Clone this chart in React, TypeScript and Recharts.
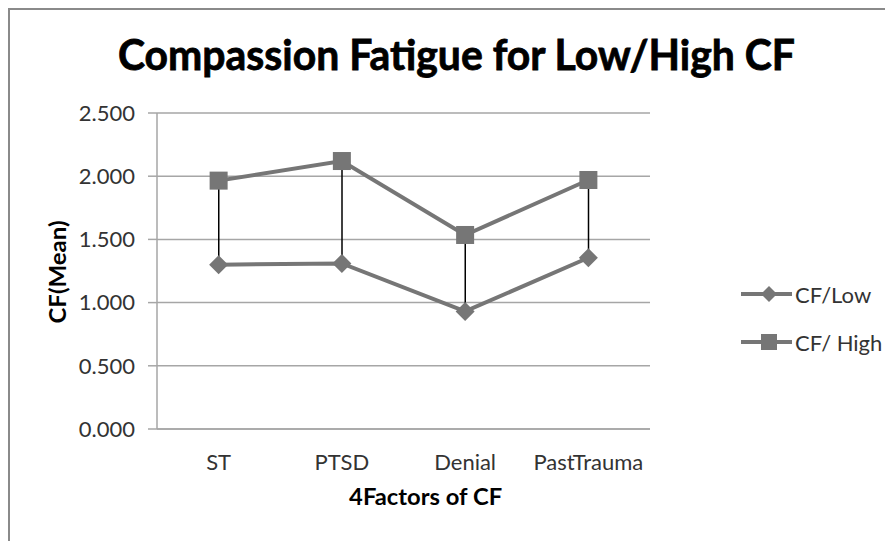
import { Bar, CartesianGrid, ComposedChart, Line, XAxis, YAxis } from 'recharts';

const categories = ['ST', 'PTSD', 'Denial', 'PastTrauma'];
const lowValues = [1.3, 1.31, 0.93, 1.355];
const highValues = [1.965, 2.12, 1.535, 1.97];
const yTicks = [0, 0.5, 1, 1.5, 2, 2.5];

const seriesColor = '#767676';
const gridColor = '#a6a6a6';
const font = 'Lato, "Open Sans", sans-serif';

const chartData = categories.map((name, i) => ({ name, low: lowValues[i], high: highValues[i] }));

const Diamond = ({ cx, cy, r = 9.5 }: { cx: number; cy: number; r?: number }) => (
  <path d={`M${cx},${cy - r}L${cx + r},${cy}L${cx},${cy + r}L${cx - r},${cy}Z`} fill={seriesColor} />
);

const Square = ({ cx, cy, s = 9 }: { cx: number; cy: number; s?: number }) => (
  <rect x={cx - s} y={cy - s} width={s * 2} height={s * 2} fill={seriesColor} />
);

const Overlay = () => (
  <svg width={883} height={531} style={{ position: 'absolute', left: 0, top: 0, pointerEvents: 'none' }}>
    <text
      x={446.5}
      y={60}
      textAnchor="middle"
      fontFamily={font}
      fontWeight={700}
      fontSize={42}
      fill="#000"
      stroke="#000"
      strokeWidth={0.8}
      textLength={677}
      lengthAdjust="spacingAndGlyphs"
    >
      Compassion Fatigue for Low/High CF
    </text>
    <text x={47} y={262} transform="rotate(-90, 47, 262)" textAnchor="middle" dominantBaseline="central" fontFamily={font} fontWeight={700} fontSize={22} fill="#000" textLength={103} lengthAdjust="spacingAndGlyphs">
      CF(Mean)
    </text>
    <text x={415.6} y={495} textAnchor="middle" fontFamily={font} fontWeight={700} fontSize={22} fill="#000" textLength={153} lengthAdjust="spacingAndGlyphs">
      4Factors of CF
    </text>
    {/* legend */}
    <line x1={731} x2={782} y1={284} y2={284} stroke={seriesColor} strokeWidth={4} />
    <Diamond cx={759} cy={284} r={8} />
    <text x={785} y={284} dominantBaseline="central" fontFamily={font} fontSize={22} fill="#333">CF/Low</text>
    <line x1={731} x2={782} y1={332} y2={332} stroke={seriesColor} strokeWidth={4} />
    <Square cx={759} cy={332} s={8} />
    <text x={785} y={332} dominantBaseline="central" fontFamily={font} fontSize={22} fill="#333">CF/ High</text>
  </svg>
);

export default function App() {
  return (
    <div
      style={{
        position: 'relative',
        width: 885,
        height: 533,
        boxSizing: 'border-box',
        borderTop: '2px solid #8a8a8a',
        borderLeft: '2px solid #8a8a8a',
        background: '#fff',
      }}
    >
      <ComposedChart width={883} height={531} data={chartData} margin={{ top: 103, right: 243, bottom: 72, left: 0 }}>
        <CartesianGrid vertical={false} stroke={gridColor} strokeWidth={1.5} />
        <XAxis
          dataKey="name"
          height={40}
          axisLine={{ stroke: gridColor, strokeWidth: 1.5 }}
          tickLine={false}
          tickSize={0}
          tickMargin={25}
          tick={{ fontFamily: font, fontSize: 22, fill: '#333' }}
        />
        <YAxis
          width={147}
          domain={[0, 2.5]}
          ticks={yTicks}
          tickFormatter={(v: number) => v.toFixed(3)}
          axisLine={{ stroke: gridColor, strokeWidth: 1.5 }}
          tickLine={{ stroke: gridColor, strokeWidth: 1.5 }}
          tickSize={9}
          tickMargin={13}
          tick={{ fontFamily: font, fontSize: 22, fill: '#333' }}
        />
        <Line
          dataKey="low"
          type="linear"
          stroke={seriesColor}
          strokeWidth={4}
          dot={(p: any) => <Diamond key={`l${p.index}`} cx={p.cx} cy={p.cy} />}
          activeDot={false}
          isAnimationActive={false}
        />
        <Line
          dataKey="high"
          type="linear"
          stroke={seriesColor}
          strokeWidth={4}
          dot={(p: any) => <Square key={`h${p.index}`} cx={p.cx} cy={p.cy} />}
          activeDot={false}
          isAnimationActive={false}
        />
        <Bar dataKey={(d: any) => [d.low, d.high]} barSize={1.5} fill="#000" isAnimationActive={false} />
      </ComposedChart>
      <Overlay />
    </div>
  );
}
